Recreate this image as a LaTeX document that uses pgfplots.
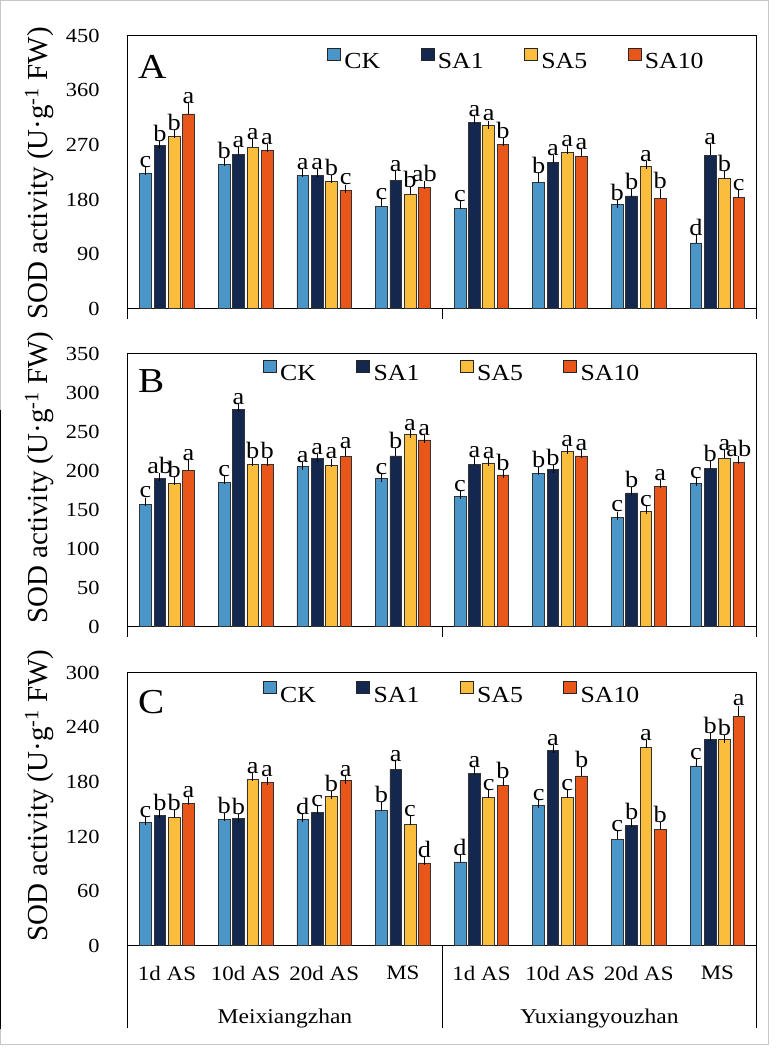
\documentclass[border=0pt]{standalone}
\usepackage{fontspec}
\setmainfont{Liberation Serif}[FakeStretch=1.12]
\newfontfamily\ylfont{Liberation Serif}
\usepackage{pgfplots}
\usepackage{pgfplotstable}
\pgfplotsset{compat=1.18}
\definecolor{ckc}{HTML}{4A96C8}
\definecolor{saone}{HTML}{14284F}
\definecolor{safive}{HTML}{FBBE3C}
\definecolor{saten}{HTML}{E8561A}

\pgfplotstableread{
x ck  cke ckl sa1 sa1e sa1l sa5 sa5e sa5l sa10 sa10e sa10l
0 222.5 4   c 268.5 2   b 284   4   b 321   11  a
1 238   4   b 254   6.5 a 266.5 6.5 a 260.5 4.5 a
2 220   4   a 220   4   a 210   3   b 195   3   c
3 169   4.5 c 212   9   a 189   4.5 b 199.5 4.5 ab
4 165   5.5 c 307   4.5 a 301.5 2   a 271   3.5 b
5 207.5 9   b 241   5   a 258   4   a 250.5 5.5 a
6 172   1   b 186   4   b 234.5 3   a 182   9.5 b
7 108.5 6.5 d 253   12.5 a 214.5 5.5 b 183  5.5 c
}\dataA

\pgfplotstableread{
x ck  cke ckl sa1 sa1e sa1l sa5 sa5e sa5l sa10 sa10e sa10l
0 157   3.5 c 190   2   ab 184  2.5 b 200.5 8   a
1 185   3   c 278.5 2   a  208  3.5 b 208   3.5 b
2 205   1.5 a 215.5 1   a  207  3.5 a 218.5 5   a
3 190   1   c 219   4.5 b  246  1.5 a 239.5 1.5 a
4 167.5 1.5 c 208   4.5 a  210  1.5 a 194.5 1.5 b
5 196   4   b 202   0.5 b  225  1   a 219   2   a
6 140.5 2   c 171.5 2   b  147.5 1.5 c 179.5 3.5 a
7 184   1.5 c 203   4.5 b  216  5.5 a 211   3   ab
}\dataB

\pgfplotstableread{
x ck  cke ckl sa1 sa1e sa1l sa5 sa5e sa5l sa10 sa10e sa10l
0 135   1.5 c 143.5 1   b 141   3.5 b 156.5 2   a
1 139   2.5 b 139.5 0.7 b 182.5 2.5 a 179   2.5 a
2 139   1.5 d 146   3.5 c 164.5 1   b 181.5 1   a
3 148.5 4.5 b 193.5 5   a 133   5   c 91    2.5 d
4 92    3.5 d 189.5 2   a 163   4   c 176.5 3.5 b
5 154.5 0.7 c 214.5 2   a 163   3.5 c 186.5 5   b
6 117   5   c 132.5 2   b 218   3.5 a 128   3   b
7 197.5 3.5 c 226.5 2.5 b 226.5 0.7 b 252  7.5 a
}\dataC

\pgfplotsset{
  sodaxis/.style={
    scale only axis, width=629pt, height=273pt,
    anchor=south west,
    ybar=2.6pt, bar width=11.7pt,
    xmin=-0.5, xmax=7.5, ymin=0,
    clip=false,
    axis line style={black, line width=0.9pt},
    xtick={-0.5,3.5,7.5}, xticklabels={},
    xtick pos=bottom, ytick pos=left,
    xtick align=outside, ytick align=inside,
    xtick style={black, line width=0.9pt},
    ytick style={draw=none},
    major tick length=10pt,
    yticklabel style={font=\fontsize{20}{20}\selectfont, inner sep=0pt, anchor=east, xshift=-28pt},
    /pgf/number format/assume math mode=true,
    ylabel={\ylfont\fontsize{29}{29}\selectfont SOD activity (U·g\textsuperscript{-1} FW)},
    legend columns=4,
    legend style={draw=none, fill=none, inner sep=0pt, outer sep=0pt,
      font=\fontsize{23}{23}\selectfont,
      nodes={inner sep=3.5pt},
      /tikz/every even column/.append style={column sep=37pt}},
    legend image code/.code={\draw[#1, draw=black!85, line width=0.7pt] (0pt,1.6pt) rectangle (13pt,13.6pt);},
    nodes near coords,
    point meta=explicit symbolic,
    every node near coord/.append style={font=\fontsize{23.5}{23.5}\selectfont, black, inner sep=3pt, yshift=\eshift pt},
    error bars/y dir=plus, error bars/y explicit,
    error bars/error bar style={black, line width=0.8pt},
    error bars/error mark options={black, mark size=4pt, line width=0.8pt},
  },
  barck/.style={fill=ckc, draw=black!80, line width=0.7pt},
  barsa1/.style={fill=saone, draw=black!80, line width=0.7pt},
  barsa5/.style={fill=safive, draw=black!80, line width=0.7pt},
  barsa10/.style={fill=saten, draw=black!80, line width=0.7pt},
}

\begin{document}
\begin{tikzpicture}
\useasboundingbox (0,0) rectangle (777pt,1049pt);
\fill[white] (0,0) rectangle (777pt,1049pt);
\draw[gray!45, line width=1pt] (0.5pt,1048.5pt) -- (768pt,1048.5pt) -- (768pt,4pt) -- (0.5pt,4pt) -- cycle;
\draw[black, line width=1.2pt] (0.6pt,639pt) -- (0.6pt,20pt);

% Panel A
\begin{axis}[sodaxis, at={(127.7pt,740.3pt)}, ymax=450, ytick={0,90,...,450},
  every axis y label/.style={at={(axis description cs:-0.1405,0.496)}, rotate=90, anchor=center},
  legend style={at={(axis description cs:0.3172,0.9084)}, anchor=west}]
\addplot[barck, visualization depends on={\thisrow{cke}*0.60667 \as \eshift}] table[x=x, y=ck, y error=cke, meta=ckl] {\dataA};
\addplot[barsa1, visualization depends on={\thisrow{sa1e}*0.60667 \as \eshift}] table[x=x, y=sa1, y error=sa1e, meta=sa1l] {\dataA};
\addplot[barsa5, visualization depends on={\thisrow{sa5e}*0.60667 \as \eshift}] table[x=x, y=sa5, y error=sa5e, meta=sa5l] {\dataA};
\addplot[barsa10, visualization depends on={\thisrow{sa10e}*0.60667 \as \eshift}] table[x=x, y=sa10, y error=sa10e, meta=sa10l] {\dataA};
\legend{CK,SA1,SA5,SA10}
\node[anchor=base west, inner sep=0pt, font=\fontsize{35}{35}\selectfont, yshift=-42.6pt] at (axis description cs:0.0164,1) {A};
\end{axis}

% Panel B
\begin{axis}[sodaxis, at={(127.7pt,422.3pt)}, ymax=350, ytick={0,50,...,350},
  every axis y label/.style={at={(axis description cs:-0.1405,0.546)}, rotate=90, anchor=center},
  legend style={at={(axis description cs:0.2150,0.9304)}, anchor=west}]
\addplot[barck, visualization depends on={\thisrow{cke}*0.78 \as \eshift}] table[x=x, y=ck, y error=cke, meta=ckl] {\dataB};
\addplot[barsa1, visualization depends on={\thisrow{sa1e}*0.78 \as \eshift}] table[x=x, y=sa1, y error=sa1e, meta=sa1l] {\dataB};
\addplot[barsa5, visualization depends on={\thisrow{sa5e}*0.78 \as \eshift}] table[x=x, y=sa5, y error=sa5e, meta=sa5l] {\dataB};
\addplot[barsa10, visualization depends on={\thisrow{sa10e}*0.78 \as \eshift}] table[x=x, y=sa10, y error=sa10e, meta=sa10l] {\dataB};
\legend{CK,SA1,SA5,SA10}
\node[anchor=base west, inner sep=0pt, font=\fontsize{35}{35}\selectfont, yshift=-39pt] at (axis description cs:0.0164,1) {B};
\end{axis}

% Panel C
\begin{axis}[sodaxis, at={(127.7pt,103.3pt)}, ymax=300, ytick={0,60,...,300},
  major tick length=82pt,
  extra x ticks={0,1,2,3,4,5,6,7},
  extra x tick labels={1d AS,10d AS,20d AS,MS,1d AS,10d AS,20d AS,MS},
  extra x tick style={major tick length=0pt, xticklabel style={font=\fontsize{20.5}{20.5}\selectfont, inner sep=0pt, anchor=north, yshift=-20.5pt}},
  every axis y label/.style={at={(axis description cs:-0.1405,0.55)}, rotate=90, anchor=center},
  legend style={at={(axis description cs:0.2150,0.9205)}, anchor=west}]
\addplot[barck, visualization depends on={\thisrow{cke}*0.91 \as \eshift}] table[x=x, y=ck, y error=cke, meta=ckl] {\dataC};
\addplot[barsa1, visualization depends on={\thisrow{sa1e}*0.91 \as \eshift}] table[x=x, y=sa1, y error=sa1e, meta=sa1l] {\dataC};
\addplot[barsa5, visualization depends on={\thisrow{sa5e}*0.91 \as \eshift}] table[x=x, y=sa5, y error=sa5e, meta=sa5l] {\dataC};
\addplot[barsa10, visualization depends on={\thisrow{sa10e}*0.91 \as \eshift}] table[x=x, y=sa10, y error=sa10e, meta=sa10l] {\dataC};
\legend{CK,SA1,SA5,SA10}
\node[anchor=base west, inner sep=0pt, font=\fontsize{35}{35}\selectfont, yshift=-41pt] at (axis description cs:0.0164,1) {C};
\node[anchor=base, inner sep=0pt, font=\fontsize{21}{21}\selectfont, yshift=-77.6pt] at (axis cs:1.5,0) {Meixiangzhan};
\node[anchor=base, inner sep=0pt, font=\fontsize{21}{21}\selectfont, yshift=-77.6pt] at (axis cs:5.5,0) {Yuxiangyouzhan};
\end{axis}
\end{tikzpicture}
\end{document}
